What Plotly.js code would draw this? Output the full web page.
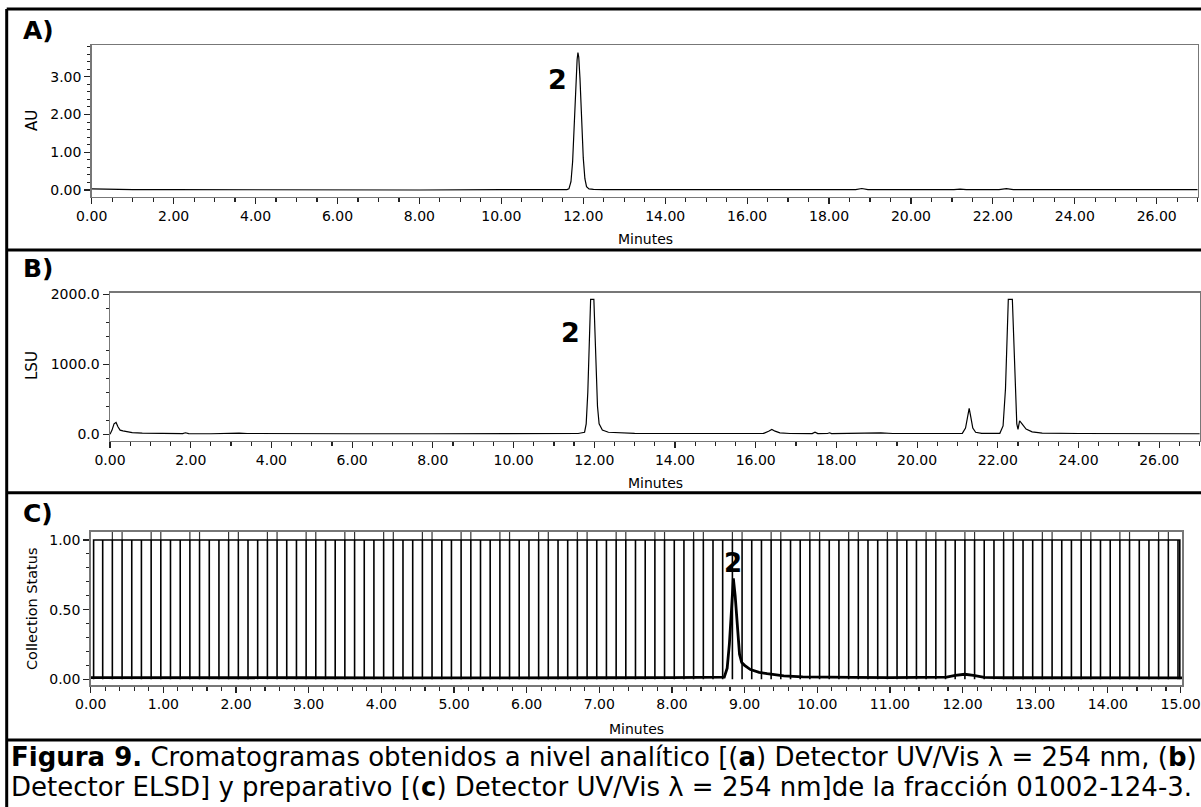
<!DOCTYPE html>
<html>
<head>
<meta charset="utf-8">
<script src="https://cdn.plot.ly/plotly-3.0.1.min.js"></script>
<style>
  html, body { margin: 0; padding: 0; background: #fff; }
  #chart { width: 1201px; height: 807px; }
</style>
</head>
<body>
<div id="chart"></div>
<script>
// ---------------- DATA ----------------
// Panel A: UV/Vis 254 nm (analytical) – minutes vs AU
const tA = [0, 0.3, 1, 2, 4, 6, 8, 10, 11.0, 11.6, 11.65, 11.70, 11.74, 11.78, 11.82, 11.85, 11.87, 11.89, 11.92, 11.96, 12.00, 12.04, 12.08, 12.14, 12.25, 12.5, 14, 16.3, 16.4, 16.5, 18.65, 18.8, 18.95, 21.05, 21.2, 21.35, 22.15, 22.33, 22.5, 24, 27];
const auA = [0.03, 0.02, 0.01, 0.01, 0.0, 0.01, 0.0, 0.01, 0.01, 0.01, 0.03, 0.22, 0.75, 1.75, 2.85, 3.45, 3.64, 3.52, 2.95, 1.85, 0.85, 0.30, 0.09, 0.03, 0.015, 0.01, 0.01, 0.01, 0.02, 0.01, 0.01, 0.04, 0.01, 0.01, 0.025, 0.01, 0.01, 0.035, 0.01, 0.01, 0.01];

// Panel B: ELSD (analytical) – minutes vs LSU
const tB = [0, 0.05, 0.10, 0.15, 0.20, 0.25, 0.32, 0.40, 0.55, 0.8, 1.2, 1.8, 1.87, 1.95, 2.5, 2.9, 3.05, 3.2, 3.4, 4, 6, 8, 10, 11.6, 11.76, 11.80, 11.84, 11.88, 11.91, 11.99, 12.02, 12.05, 12.08, 12.12, 12.2, 12.35, 12.6, 13.0, 14, 16.2, 16.32, 16.40, 16.48, 16.6, 16.85, 17.4, 17.47, 17.54, 17.78, 17.83, 17.88, 18.5, 18.8, 19.1, 19.4, 20.5, 21.12, 21.2, 21.25, 21.29, 21.33, 21.38, 21.45, 21.6, 22.05, 22.13, 22.19, 22.23, 22.26, 22.36, 22.39, 22.43, 22.47, 22.50, 22.54, 22.60, 22.70, 22.85, 23.1, 24, 27];
const lsuB = [0, 60, 150, 170, 105, 60, 50, 38, 25, 16, 12, 10, 22, 10, 8, 16, 22, 18, 12, 10, 8, 8, 10, 12, 30, 150, 600, 1300, 1929, 1929, 1500, 900, 400, 150, 60, 30, 22, 15, 12, 14, 45, 70, 45, 22, 12, 10, 30, 10, 12, 22, 10, 14, 24, 20, 12, 8, 15, 90, 260, 370, 250, 90, 30, 14, 15, 120, 650, 1300, 1929, 1929, 1400, 600, 150, 70, 194, 150, 75, 35, 18, 12, 8];

// Panel C: UV/Vis 254 nm (preparative) – minutes vs signal
const tC = [0, 1, 2, 3, 4, 5, 6, 7, 8, 8.6, 8.72, 8.76, 8.79, 8.82, 8.845, 8.87, 8.90, 8.93, 8.96, 9.0, 9.08, 9.2, 9.31, 9.54, 9.8, 10.0, 10.5, 11, 11.6, 11.78, 11.9, 12.03, 12.15, 12.3, 12.6, 13, 14, 15.02];
const uvC = [0.012, 0.01, 0.011, 0.011, 0.01, 0.012, 0.012, 0.011, 0.012, 0.012, 0.015, 0.08, 0.25, 0.5, 0.725, 0.6, 0.35, 0.18, 0.12, 0.1, 0.07, 0.05, 0.04, 0.024, 0.018, 0.016, 0.014, 0.012, 0.012, 0.015, 0.028, 0.036, 0.028, 0.014, 0.011, 0.01, 0.01, 0.01];

// Panel C: collection status (tube changes, minutes)
const collectStart = 0.04;
const collectEnd = 14.99;
const tubeChanges = [
  0.165, 0.298, 0.432, 0.565, 0.698, 0.832, 0.965, 1.098, 1.232, 1.365, 1.498, 1.632, 1.765, 1.898, 2.032,
  2.165, 2.298, 2.432, 2.565, 2.698, 2.832, 2.965, 3.098, 3.232, 3.365, 3.498, 3.632, 3.765, 3.898, 4.032,
  4.165, 4.298, 4.432, 4.565, 4.698, 4.832, 4.965, 5.098, 5.232, 5.365, 5.498, 5.632, 5.765, 5.898, 6.032,
  6.165, 6.298, 6.432, 6.565, 6.698, 6.832, 6.965, 7.098, 7.232, 7.365, 7.498, 7.632, 7.765, 7.898, 8.032,
  8.165, 8.298, 8.432, 8.565, 8.698, 8.832, 8.965, 9.098, 9.232, 9.365, 9.498, 9.632, 9.765, 9.898, 10.032,
  10.165, 10.298, 10.432, 10.565, 10.698, 10.832, 10.965, 11.098, 11.232, 11.365, 11.498, 11.632, 11.765, 11.898, 12.032,
  12.165, 12.298, 12.432, 12.565, 12.698, 12.832, 12.965, 13.098, 13.232, 13.365, 13.498, 13.632, 13.765, 13.898, 14.032,
  14.165, 14.298, 14.432, 14.565, 14.698, 14.832, 14.965
];
// Rack-position marker pulses (drawn above 1.00, clipped by the frame)
const markerOn = [0.298, 0.832, 1.365, 1.898, 2.432, 2.965, 3.498, 4.032, 4.565, 5.098, 5.632, 6.165, 6.698, 7.232, 7.765, 8.298, 8.832, 9.365, 9.898, 10.432, 10.965, 11.498, 12.032, 12.565, 13.098, 13.632, 14.165, 14.698];
const markerOff = [0.432, 0.965, 1.498, 2.032, 2.565, 3.098, 3.632, 4.165, 4.698, 5.232, 5.765, 6.298, 6.832, 7.365, 7.898, 8.432, 8.965, 9.498, 10.032, 10.565, 11.098, 11.632, 12.165, 12.698, 13.232, 13.765, 14.298, 14.832];

// Labels
const panelLabels = ["A)", "B)", "C)"];
const yTitles = ["AU", "LSU", "Collection Status"];
const xTitle = "Minutes";
const peakLabel = "2";
const peakTimes = [11.87, 11.95, 8.845];
const captionLine1 = "<b>Figura 9.</b> Cromatogramas obtenidos a nivel analítico [(<b>a</b>) Detector UV/Vis λ = 254 nm, (<b>b</b>)";
const captionLine2 = "Detector ELSD] y preparativo [(<b>c</b>) Detector UV/Vis λ = 254 nm]de la fracción 01002-124-3.";

// ---------------- LAYOUT HELPERS ----------------
const W = 1201, H = 807;
const FONT = "DejaVu Sans";
const px = v => v / W;
const py = v => 1 - v / H;

// step trace for collection status
const statusX = [collectStart, collectStart], statusY = [0, 1];
tubeChanges.forEach(t => { statusX.push(t, t, t); statusY.push(1, 0, 1); });
statusX.push(collectEnd, collectEnd); statusY.push(1, 0);

const markX = [], markY = [];
markerOn.forEach((t, i) => {
  markX.push(t, t, markerOff[i], markerOff[i], null);
  markY.push(1, 1.5, 1.5, 1, null);
});

const traces = [
  { x: tA, y: auA, xaxis: 'x', yaxis: 'y', mode: 'lines', line: { color: '#000', width: 1.2 }, hoverinfo: 'skip' },
  { x: tB, y: lsuB, xaxis: 'x2', yaxis: 'y2', mode: 'lines', line: { color: '#000', width: 1.2 }, hoverinfo: 'skip' },
  { x: markX, y: markY, xaxis: 'x3', yaxis: 'y3', mode: 'lines', line: { color: '#333', width: 1.2 }, hoverinfo: 'skip', connectgaps: false },
  { x: statusX, y: statusY, xaxis: 'x3', yaxis: 'y3', mode: 'lines', line: { color: '#000', width: 1.6 }, hoverinfo: 'skip' },
  { x: tC, y: uvC, xaxis: 'x3', yaxis: 'y3', mode: 'lines', line: { color: '#000', width: 2.8 }, hoverinfo: 'skip' }
];

function xAxis(d0, d1, range, dtick, minorDtick, anchor) {
  return {
    domain: [px(d0), px(d1)], range: range, anchor: anchor,
    tick0: 0, dtick: dtick, tickformat: '.2f',
    ticks: 'outside', ticklen: 6, tickwidth: 1.2, tickcolor: '#222',
    showline: true, linecolor: '#777', linewidth: 1.5, mirror: true,
    showgrid: false, zeroline: false,
    tickfont: { family: FONT, size: 14, color: '#000' },
    minor: { tick0: 0, dtick: minorDtick, ticks: 'outside', ticklen: 4, tickwidth: 1.2, tickcolor: '#222', showgrid: false }
  };
}
function yAxis(top, bottom, range, dtick, minorDtick, fmt, anchor) {
  return {
    domain: [py(bottom), py(top)], range: range, anchor: anchor,
    tick0: 0, dtick: dtick, tickformat: fmt,
    ticks: 'outside', ticklen: 6, tickwidth: 1.2, tickcolor: '#222',
    showline: true, linecolor: '#777', linewidth: 1.5, mirror: true,
    showgrid: false, zeroline: false,
    tickfont: { family: FONT, size: 14, color: '#000' },
    minor: { tick0: 0, dtick: minorDtick, ticks: 'outside', ticklen: 3, tickwidth: 1, tickcolor: '#222', showgrid: false }
  };
}

function ann(text, x, y, size, opts) {
  return Object.assign({
    text: text, xref: 'paper', yref: 'paper', x: px(x), y: py(y),
    xanchor: 'center', yanchor: 'middle', showarrow: false,
    font: { family: FONT, size: size, color: '#000' }
  }, opts || {});
}

const annotations = [
  ann('<b>' + panelLabels[0] + '</b>', 21, 30, 25, { xanchor: 'left' }),
  ann('<b>' + panelLabels[1] + '</b>', 21, 268, 25, { xanchor: 'left' }),
  ann('<b>' + panelLabels[2] + '</b>', 21, 513, 25, { xanchor: 'left' }),
  ann(yTitles[0], 32, 121, 15, { textangle: -90 }),
  ann(yTitles[1], 32, 366, 15, { textangle: -90 }),
  ann(yTitles[2], 32, 609, 14.5, { textangle: -90 }),
  ann(xTitle, 645, 239, 14),
  ann(xTitle, 655, 483, 14),
  ann(xTitle, 636, 729, 14),
  { text: '<b>' + peakLabel + '</b>', xref: 'x', yref: 'paper', x: peakTimes[0] - 0.5, y: py(80), showarrow: false, xanchor: 'center', yanchor: 'middle', font: { family: FONT, size: 27, color: '#000' } },
  { text: '<b>' + peakLabel + '</b>', xref: 'x2', yref: 'paper', x: peakTimes[1] - 0.55, y: py(332), showarrow: false, xanchor: 'center', yanchor: 'middle', font: { family: FONT, size: 27, color: '#000' } },
  { text: '<b>' + peakLabel + '</b>', xref: 'x3', yref: 'paper', x: peakTimes[2], y: py(563), showarrow: false, xanchor: 'center', yanchor: 'middle', font: { family: FONT, size: 26, color: '#000' } },
  ann(captionLine1, 9, 757, 26, { xanchor: 'left' }),
  ann(captionLine2, 9, 787, 26, { xanchor: 'left' })
];

const border = { color: '#000', width: 3 };
const shapes = [
  { type: 'line', xref: 'paper', yref: 'paper', x0: px(6.7), x1: px(6.7), y0: py(9), y1: py(815), line: border },
  { type: 'line', xref: 'paper', yref: 'paper', x0: px(6.7), x1: px(1210), y0: py(9), y1: py(9), line: border },
  { type: 'line', xref: 'paper', yref: 'paper', x0: px(6.7), x1: px(1210), y0: py(250), y1: py(250), line: border },
  { type: 'line', xref: 'paper', yref: 'paper', x0: px(6.7), x1: px(1210), y0: py(492.7), y1: py(492.7), line: border },
  { type: 'line', xref: 'paper', yref: 'paper', x0: px(6.7), x1: px(1210), y0: py(740), y1: py(740), line: border }
];

const layout = {
  width: W, height: H,
  margin: { l: 0, r: 0, t: 0, b: 0 },
  paper_bgcolor: '#fff', plot_bgcolor: '#fff',
  showlegend: false,
  font: { family: FONT, color: '#000' },
  xaxis: xAxis(91.7, 1197.7, [0, 27], 2, 0.5, 'y'),
  yaxis: yAxis(45, 196.7, [-0.177, 3.839], 1, 0.2, '.2f', 'x'),
  xaxis2: xAxis(110, 1200, [0, 27.01], 2, 0.5, 'y2'),
  yaxis2: yAxis(292.7, 440.7, [-91, 2023], 1000, 200, '.1f', 'x2'),
  xaxis3: xAxis(90.7, 1182, [0, 15.02], 1, 0.2, 'y3'),
  yaxis3: yAxis(531.7, 685, [-0.041, 1.0596], 0.5, 0.1, '.2f', 'x3'),
  annotations: annotations,
  shapes: shapes
};

Plotly.newPlot('chart', traces, layout, { displayModeBar: false, staticPlot: true });
</script>
</body>
</html>
